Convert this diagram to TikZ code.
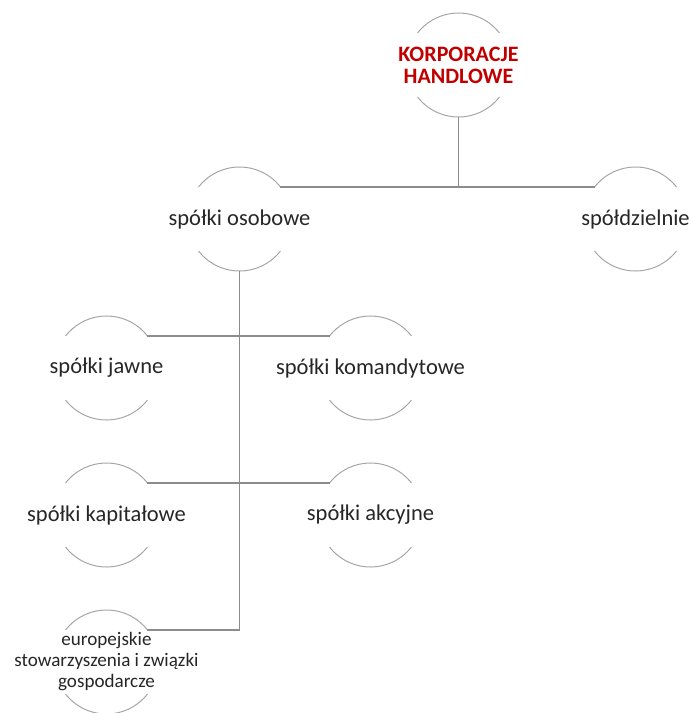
\documentclass[tikz,border=0pt]{standalone}
\usepackage{fontspec}
\setmainfont{Carlito}
\definecolor{arcgray}{HTML}{A6A6A6}
\definecolor{linegray}{HTML}{8C8C8C}
\definecolor{titlered}{HTML}{C00000}
\tikzset{
  ring/.style={circle, minimum size=104pt, inner sep=0pt, outer sep=0pt},
  arcline/.style={draw=arcgray, line width=1pt},
  conn/.style={draw=linegray, line width=1.2pt},
  lbl/.style={font=\fontsize{22.5}{26}\selectfont, text=black!85, inner sep=0pt, align=center},
  smalllbl/.style={font=\fontsize{19.1}{21}\selectfont, text=black!85, inner sep=0pt, align=center},
  titlelbl/.style={font=\bfseries\fontsize{22}{22}\selectfont, text=titlered, inner sep=0pt, align=center}
}
\newcommand{\ringarcs}[1]{%
  \draw[arcline] (#1.38) arc[start angle=38, end angle=142, radius=52pt];
  \draw[arcline] (#1.218) arc[start angle=218, end angle=322, radius=52pt];
}
\begin{document}
\begin{tikzpicture}[x=1pt,y=1pt]
\useasboundingbox (0,0) rectangle (691,-713);
% rings
\node[ring] (korp) at (458.5,-65) {};
\node[ring] (osob) at (239.5,-219) {};
\node[ring] (spol) at (635.5,-219) {};
\node[ring] (jawn) at (106.5,-368) {};
\node[ring] (koma) at (370.5,-368) {};
\node[ring] (kapi) at (106.5,-515) {};
\node[ring] (akcy) at (370.5,-515) {};
\node[ring] (euro) at (106.5,-662) {};
\foreach \n in {korp,osob,spol,jawn,koma,kapi,akcy,euro}{\ringarcs{\n}}
% connectors
\coordinate (j1) at (korp.south |- osob.38);
\draw[conn] (korp.south) -- (j1);
\draw[conn] (osob.38) -- (spol.142);
\draw[conn] (jawn.38) -- (koma.142);
\draw[conn] (kapi.38) -- (akcy.142);
\draw[conn] (osob.south) |- (euro.38);
% labels
\node[titlelbl] (korpT) at (korp.center) {KORPORACJE\\HANDLOWE};
\node[lbl] (osobT) at (osob.center) {spółki osobowe};
\node[lbl] (spolT) at (spol.center) {spółdzielnie};
\node[lbl] (jawnT) at (jawn.center) {spółki jawne};
\node[lbl] (komaT) at (koma.center) {spółki komandytowe};
\node[lbl] (kapiT) at (kapi.center) {spółki kapitałowe};
\node[lbl] (akcyT) at (akcy.center) {spółki akcyjne};
\node[smalllbl] (euroT) at (euro.center) {europejskie\\stowarzyszenia i związki\\gospodarcze};
\end{tikzpicture}
\end{document}
